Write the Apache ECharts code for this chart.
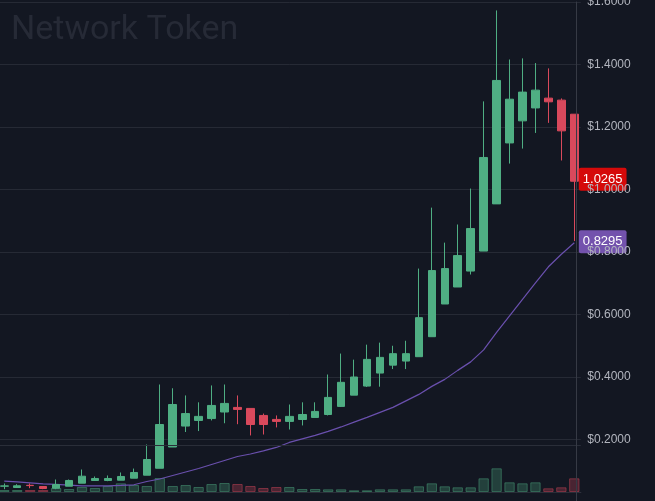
<!DOCTYPE html>
<html>
<head>
<meta charset="utf-8">
<script src="https://cdn.jsdelivr.net/npm/echarts@6/dist/echarts.min.js"></script>
<style>
html, body { margin: 0; padding: 0; background: #131722; }
#main { width: 655px; height: 501px; }
</style>
</head>
<body>
<div id="main"></div>
<script>
// weekly candles
const weeks = [
    '2021-01-04', '2021-01-11', '2021-01-18', '2021-01-25', '2021-02-01', '2021-02-08', '2021-02-15', '2021-02-22', '2021-03-01',
    '2021-03-08', '2021-03-15', '2021-03-22', '2021-03-29', '2021-04-05', '2021-04-12', '2021-04-19', '2021-04-26', '2021-05-03',
    '2021-05-10', '2021-05-17', '2021-05-24', '2021-05-31', '2021-06-07', '2021-06-14', '2021-06-21', '2021-06-28', '2021-07-05',
    '2021-07-12', '2021-07-19', '2021-07-26', '2021-08-02', '2021-08-09', '2021-08-16', '2021-08-23', '2021-08-30', '2021-09-06',
    '2021-09-13', '2021-09-20', '2021-09-27', '2021-10-04', '2021-10-11', '2021-10-18', '2021-10-25', '2021-11-01', '2021-11-08'
];

// [open, close, low, high]
const candles = [
    [0.0506, 0.0516, 0.041, 0.0593], [0.0464, 0.0519, 0.0464, 0.057], [0.0535, 0.0525, 0.0442, 0.0593],
    [0.0496, 0.0432, 0.041, 0.0496], [0.0442, 0.056, 0.041, 0.072], [0.0506, 0.0689, 0.0506, 0.072],
    [0.0602, 0.0826, 0.0602, 0.104], [0.0689, 0.0753, 0.0689, 0.0817], [0.0689, 0.0753, 0.0666, 0.0849],
    [0.0698, 0.0817, 0.0698, 0.0945], [0.0762, 0.0945, 0.0762, 0.107], [0.0858, 0.136, 0.0858, 0.184],
    [0.108, 0.248, 0.108, 0.376], [0.176, 0.312, 0.176, 0.364], [0.243, 0.283, 0.224, 0.341],
    [0.261, 0.274, 0.227, 0.319], [0.267, 0.309, 0.261, 0.373], [0.288, 0.3155, 0.252, 0.376],
    [0.3027, 0.2963, 0.249, 0.341], [0.2995, 0.248, 0.213, 0.2995], [0.277, 0.248, 0.216, 0.283],
    [0.2643, 0.258, 0.2387, 0.277], [0.258, 0.274, 0.232, 0.312], [0.264, 0.280, 0.245, 0.319],
    [0.2706, 0.2899, 0.2706, 0.319], [0.280, 0.3347, 0.277, 0.408], [0.306, 0.383, 0.304, 0.475],
    [0.342, 0.400, 0.342, 0.4555], [0.371, 0.4564, 0.368, 0.5035], [0.4126, 0.4628, 0.369, 0.51],
    [0.438, 0.4747, 0.4254, 0.500], [0.451, 0.4747, 0.4254, 0.516], [0.465, 0.590, 0.465, 0.747],
    [0.529, 0.7406, 0.529, 0.942], [0.6336, 0.747, 0.6336, 0.830], [0.688, 0.7886, 0.688, 0.888],
    [0.739, 0.875, 0.728, 1.003], [0.803, 1.1025, 0.803, 1.282], [0.954, 1.349, 0.954, 1.573],
    [1.149, 1.289, 1.083, 1.416], [1.2197, 1.3117, 1.131, 1.4196], [1.261, 1.318, 1.181, 1.4046],
    [1.2924, 1.2806, 1.2133, 1.3876], [1.286, 1.1877, 1.0929, 1.2915], [1.241, 1.0265, 0.835, 1.241]
];

// volume (thousands)
const volumes = [
    200, 200, 200, 200, 400, 300, 500, 400, 600, 870, 700, 600, 1400, 600, 700,
    500, 800, 900, 800, 600, 400, 500, 500, 300, 300, 270, 270, 170, 170, 270,
    270, 270, 570, 870, 570, 470, 470, 1370, 2370, 970, 870, 970, 370, 470, 1370
];

// moving average line
const maLine = [
    0.0666, 0.0641, 0.0615, 0.0583, 0.0561, 0.0538, 0.0519, 0.0519, 0.0519, 0.0529,
    0.0551, 0.0657, 0.0737, 0.0849, 0.0961, 0.1073, 0.1201, 0.1329, 0.1457, 0.1537,
    0.1634, 0.1746, 0.1906, 0.2018, 0.2130, 0.2258, 0.2402, 0.2556, 0.2707, 0.2867,
    0.3027, 0.3235, 0.3443, 0.3700, 0.3924, 0.4212, 0.4484, 0.4869, 0.5429, 0.5958,
    0.6486, 0.7015, 0.7527, 0.7928, 0.8295
];

const priceTicks = [0, 0.2, 0.4, 0.6, 0.8, 1.0, 1.2, 1.4, 1.6];
const lastPrice = 1.0265;
const lastMa = 0.8295;

const UP = '#4fae83';
const DOWN = '#d9495c';
const GRID_LINE = '#262a35';

const volumeData = volumes.map((v, i) => {
    const up = candles[i][1] >= candles[i][0];
    return {
        value: v,
        itemStyle: up
            ? {color: 'rgba(79,174,131,0.28)', borderColor: 'rgba(79,174,131,0.45)', borderWidth: 1}
            : {color: 'rgba(217,73,92,0.28)', borderColor: 'rgba(217,73,92,0.45)', borderWidth: 1}
    };
});

const chart = echarts.init(document.getElementById('main'));

// outerBoundsMode none: let labels run off the edge like the original
const gridSide = {left: -2.2, right: 74.2, outerBoundsMode: 'none', containLabel: false};

chart.setOption({
    backgroundColor: '#131722',
    animation: false,
    title: {
        text: 'Network Token',
        left: 6,
        top: 8,
        textStyle: {color: '#262a36', fontSize: 34, fontWeight: 'normal', fontFamily: 'Roboto'}
    },
    grid: [
        Object.assign({top: 2, bottom: -1}, gridSide),
        Object.assign({top: 445, bottom: 9}, gridSide)
    ],
    xAxis: [
        {type: 'category', data: weeks, gridIndex: 0, boundaryGap: true,
            axisLine: {show: false}, axisTick: {show: false}, axisLabel: {show: false}, splitLine: {show: false}},
        {type: 'category', data: weeks, gridIndex: 1, boundaryGap: true,
            axisLine: {show: true, lineStyle: {color: '#3a3e4a'}}, axisTick: {show: false}, axisLabel: {show: false}}
    ],
    yAxis: [
        {   // price gridlines
            type: 'value', gridIndex: 0, position: 'right', min: priceTicks[0], max: priceTicks[priceTicks.length - 1], interval: 0.2,
            axisLine: {show: false}, axisTick: {show: false}, axisLabel: {show: false},
            splitLine: {show: true, lineStyle: {color: GRID_LINE, width: 1}}
        },
        {   // price labels, drawn on top
            type: 'value', gridIndex: 0, position: 'right', offset: -4.5, z: 10,
            min: priceTicks[0], max: priceTicks[priceTicks.length - 1], interval: 0.2,
            axisLine: {show: true, lineStyle: {color: '#363a45'}},
            axisTick: {show: false},
            splitLine: {show: false},
            axisLabel: {
                show: true, margin: 11, color: '#b2b5be', fontSize: 12, fontFamily: 'Liberation Sans',
                formatter: v => v === 0 ? '' : '$' + v.toFixed(4)
            }
        },
        {   // volume
            type: 'value', gridIndex: 1, position: 'right', min: 0, max: 4700, interval: 4700, z: 5,
            axisLine: {show: false}, axisTick: {show: false}, axisLabel: {show: false},
            splitLine: {show: true, lineStyle: {color: '#2a2e39'}}
        }
    ],
    series: [
        {
            type: 'bar',
            name: 'Volume',
            xAxisIndex: 1,
            yAxisIndex: 2,
            data: volumeData,
            barWidth: '80%',
            z: 1
        },
        {
            type: 'candlestick',
            name: 'Price',
            xAxisIndex: 0,
            yAxisIndex: 0,
            data: candles,
            barWidth: 8,
            clip: false,
            z: 3,
            itemStyle: {color: UP, color0: DOWN, borderColor: UP, borderColor0: DOWN, borderWidth: 1},
            markLine: {
                silent: true,
                symbol: ['none', 'none'],
                lineStyle: {color: 'rgba(0,0,0,0)', width: 0, type: 'solid'},
                label: {
                    show: true, position: 'end', distance: -2, offset: [0, -1],
                    color: '#ffffff', fontSize: 13, lineHeight: 14, fontFamily: 'Liberation Sans',
                    padding: [5, 4, 4, 4], borderRadius: 2
                },
                data: [
                    {yAxis: lastPrice, label: {formatter: lastPrice.toFixed(4), backgroundColor: '#d50a0a'}},
                    {yAxis: lastMa, label: {formatter: lastMa.toFixed(4), backgroundColor: '#7352ad'}}
                ]
            }
        },
        {
            type: 'line',
            name: 'MA',
            xAxisIndex: 0,
            yAxisIndex: 0,
            data: maLine,
            symbol: 'none',
            smooth: false,
            z: 2,
            lineStyle: {color: '#6a50ae', width: 1.2}
        }
    ]
});
</script>
</body>
</html>
